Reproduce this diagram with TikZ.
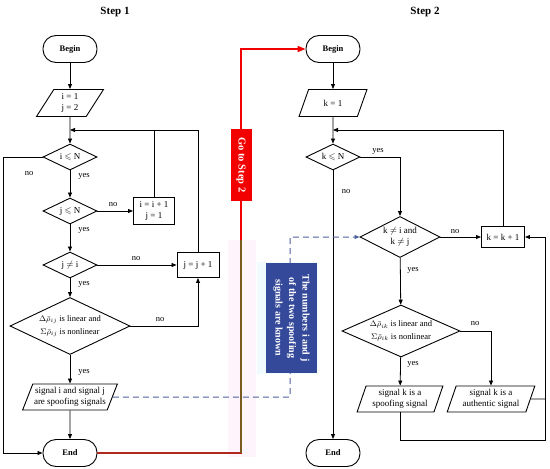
\documentclass[tikz,border=0pt]{standalone}
\usepackage{fontspec}
\setmainfont{Liberation Serif}
\usepackage{amssymb}
\usetikzlibrary{shapes.geometric,arrows.meta}
\definecolor{bluebox}{HTML}{34499A}
\definecolor{dashblue}{HTML}{4E5E9E}
\definecolor{goRed}{HTML}{F20000}
\definecolor{lowRed}{HTML}{B0281E}
\definecolor{lowBrown}{HTML}{7B5A1F}
\definecolor{paleRose}{HTML}{FEF5FC}
\definecolor{paleCyan}{HTML}{F1FBFD}
\begin{document}
\begin{tikzpicture}[x=1pt,y=-1pt,
  every node/.style={font=\fontsize{9}{10.5}\selectfont},
  term/.style={draw, line width=0.9pt, rectangle, rounded corners=13pt, minimum width=54pt, minimum height=27pt, font=\bfseries\fontsize{8.5}{10}\selectfont, inner sep=0pt},
  io/.style={draw, line width=0.9pt, trapezium, trapezium left angle=64, trapezium right angle=116, trapezium stretches=true, minimum height=27pt, align=center, inner sep=1pt},
  proc/.style={draw, line width=0.9pt, rectangle, align=center, inner sep=1pt},
  decision/.style={draw, line width=0.9pt, diamond, aspect=2, inner sep=0pt, align=center},
  bigdec/.style={decision, font=\fontsize{8.5}{12.5}\selectfont},
  lbl/.style={font=\fontsize{8.5}{10}\selectfont, inner sep=0pt},
  ttl/.style={font=\bfseries\fontsize{11}{13}\selectfont},
  flow/.style={line width=0.8pt, -{Triangle[length=5pt,width=4pt]}},
  plain/.style={line width=0.8pt}
]
\useasboundingbox (0,0) rectangle (550,469);

% faint background patches
\fill[paleRose] (228,240) rectangle (256,457);
\fill[paleCyan] (257,262) rectangle (318,374);

% titles
\node[ttl] (t1) at (115,12) {Step 1};
\node[ttl] (t2) at (425,12) {Step 2};

% ---------- Step 1 ----------
\node[term] (b1) at (70,49) {Begin};
\node[io, minimum width=67pt] (p1) at (70,103) {i = 1\\ j = 2};
\coordinate (m1) at (70,130);
\node[decision, minimum width=54pt, minimum height=26pt] (d1) at (70,157) {i $\leqslant$ N};
\node[decision, minimum width=54pt, minimum height=26pt] (d2) at (70,211) {j $\leqslant$ N};
\node[proc, minimum width=41pt, minimum height=27pt] (r1) at (154,211) {i = i + 1\\ j = 1};
\node[decision, minimum width=54pt, minimum height=26pt] (d3) at (70,265) {j $\neq$ i};
\node[proc, minimum width=42pt, minimum height=25pt] (r2) at (198,265) {j = j + 1};
\node[bigdec, minimum width=120pt, minimum height=57pt] (d4) at (70,326) {$\Delta\bar{\rho}_{ij}$ is linear and\\ $\Sigma\bar{\rho}_{ij}$ is nonlinear};
\node[io, minimum width=95pt, minimum height=26pt] (p2) at (70,397) {signal i and signal j\\ are spoofing signals};
\node[term] (e1) at (70,453) {End};

\draw[flow] (b1) -- (p1);
\draw[flow] (p1) -- (d1);
\draw[plain] (r1.north) -- (r1.north |- m1);
\draw[flow] (r2.north) |- (m1);
\draw[flow] (d1.west) -- ++(-39,0) |- (e1.west);
\node[lbl] at (29,174) {no};
\draw[flow] (d1) -- (d2);
\node[lbl] at (84,176) {yes};
\draw[flow] (d2) -- (r1);
\node[lbl] at (113,205) {no};
\draw[flow] (d2) -- (d3);
\node[lbl] at (84,230) {yes};
\draw[flow] (d3) -- (r2);
\node[lbl] at (136,259) {no};
\draw[flow] (d3) -- (d4);
\node[lbl] at (84,284) {yes};
\draw[flow] (d4.east) -| (r2.south);
\node[lbl] at (160,320) {no};
\draw[flow] (d4) -- (p2);
\node[lbl] at (84,372) {yes};
\draw[flow] (p2) -- (e1);

% ---------- Step 2 ----------
\node[term] (b2) at (333,49) {Begin};
\node[io, minimum width=68pt] (p3) at (333,103) {k = 1};
\coordinate (m2) at (333,130);
\node[decision, minimum width=54pt, minimum height=26pt] (d5) at (333,157) {k $\leqslant$ N};
\node[decision, minimum width=80pt, minimum height=41pt] (d6) at (400,237) {k $\neq$ i and\\ k $\neq$ j};
\node[proc, minimum width=43pt, minimum height=21pt] (r3) at (503,237) {k = k + 1};
\node[bigdec, minimum width=118pt, minimum height=52pt] (d7) at (401,331) {$\Delta\bar{\rho}_{ik}$ is linear and\\ $\Sigma\bar{\rho}_{ik}$ is nonlinear};
\node[io, trapezium left angle=70, trapezium right angle=110, minimum width=86pt, minimum height=26pt] (p4) at (400,399) {signal k is a\\ spoofing signal};
\node[io, trapezium left angle=70, trapezium right angle=110, minimum width=88pt, minimum height=26pt] (p5) at (491,399) {signal k is a\\ authentic signal};
\node[term] (e2) at (333,453) {End};

\draw[flow] (b2) -- (p3);
\draw[flow] (p3) -- (d5);
\draw[flow] (r3.north) |- (m2);
\draw[flow] (d5.east) -| (d6.north);
\node[lbl] at (378,151) {yes};
\draw[flow] (d5) -- (e2);
\node[lbl] at (346,192) {no};
\draw[flow] (d6) -- (r3);
\node[lbl] at (455,232) {no};
\draw[flow] (d6) -- (d7);
\node[lbl] at (413,270) {yes};
\draw[flow] (d7.east) -| (p5.north);
\node[lbl] at (475,324) {no};
\draw[flow] (d7) -- (p4);
\node[lbl] at (413,364) {yes};
\draw[flow] (p4.south) |- (545,440) |- (r3.east);
\draw[plain] (p5.east) -- (545,399);

% ---------- Go to Step 2 connector ----------
\draw[goRed, line width=1.6pt, -{Triangle[length=8pt,width=6pt]}] (e1.east) -| (241,49) -- (b2.west);
\draw[lowRed, line width=1.6pt] (e1.east) -- (241,453);
\draw[lowBrown, line width=1.6pt] (241,453) -- (241,240);
\node[fill=goRed, text=white, rotate=-90, minimum width=72pt, minimum height=21pt, inner sep=1pt, font=\bfseries\fontsize{10.5}{12}\selectfont] (go) at (241,165) {Go to Step 2};

% ---------- dashed info connector ----------
\draw[dashblue, line width=1pt, dash pattern=on 6pt off 4pt, -{Triangle[length=5pt,width=4pt]}] (p2.east) -- (290,397) |- (d6.west);
\node[fill=bluebox, text=white, rotate=-90, minimum width=110pt, minimum height=51pt, inner sep=1pt, align=center, font=\bfseries\fontsize{10}{13.5}\selectfont] (info) at (291.5,318) {The numbers i and j\\ of the two spoofing\\ signals are known};
\end{tikzpicture}
\end{document}
